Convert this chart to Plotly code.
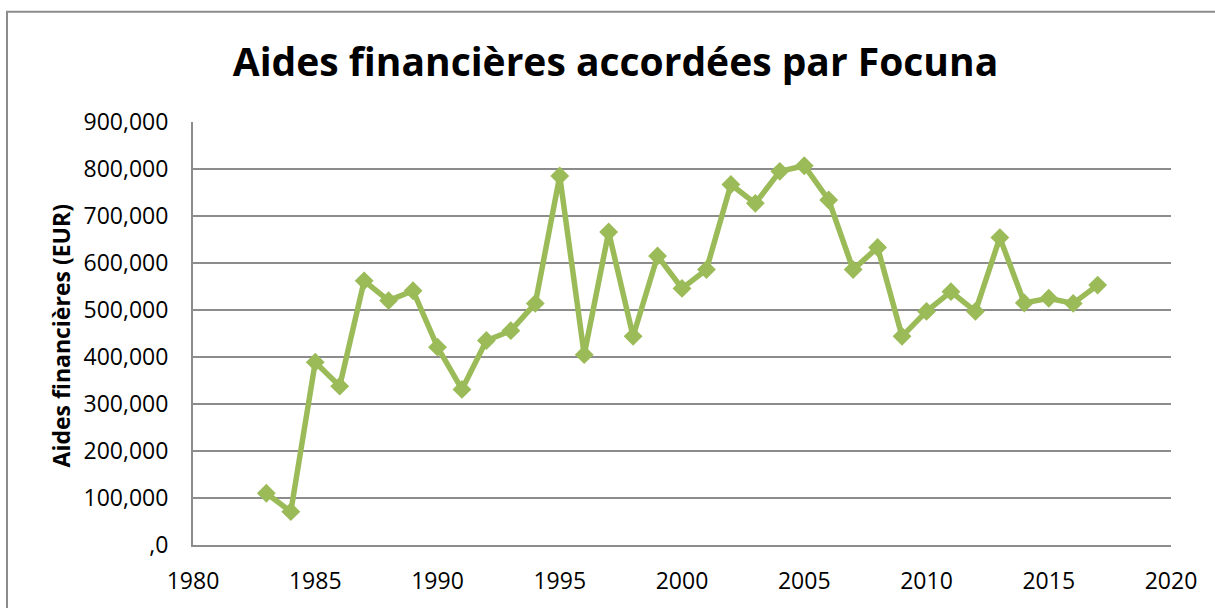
import plotly.graph_objects as go

years = list(range(1983, 2018))
aides = [110000, 71000, 389000, 338000, 562000, 520000, 541000, 421000, 331000, 435000,
         456000, 514000, 785000, 405000, 666000, 444000, 615000, 546000, 586000, 767000,
         727000, 795000, 807000, 734000, 586000, 633000, 444000, 497000, 539000, 497000,
         654000, 515000, 525000, 514000, 553000]

y_tickvals = [0, 100000, 200000, 300000, 400000, 500000, 600000, 700000, 800000, 900000]
y_ticktext = [",0", "100,000", "200,000", "300,000", "400,000", "500,000", "600,000",
              "700,000", "800,000", "900,000"]
x_tickvals = [1980, 1985, 1990, 1995, 2000, 2005, 2010, 2015, 2020]

title_text = "Aides financières accordées par Focuna"
y_title = "Aides financières (EUR)"

GREEN = "#9BBB59"
GRID = "#8C8C8C"
FONT = "Open Sans"

fig = go.Figure()
fig.add_trace(go.Scatter(
    x=years, y=aides, mode="lines+markers",
    line=dict(color=GREEN, width=5.5),
    marker=dict(symbol="diamond", size=14.5, color=GREEN),
    showlegend=False,
))

W, H = 1215, 608
ml, mr, mt, mb = 193, 44, 122, 56
pw, ph = W - ml - mr, H - mt - mb

fig.update_layout(
    width=W, height=H,
    margin=dict(l=ml, r=mr, t=mt, b=mb),
    paper_bgcolor="white", plot_bgcolor="white",
    font=dict(family=FONT, color="black"),
    title=dict(text=title_text, x=615.5 / W, xanchor="center",
               y=1 - 62 / H, yanchor="middle",
               font=dict(family=FONT, size=39, color="black", weight="bold")),
    xaxis=dict(range=[1980, 2020], tickvals=x_tickvals, showgrid=False,
               showline=True, linecolor=GRID, linewidth=2, zeroline=False,
               ticks="", tickfont=dict(size=23, color="black"),
               ticklabelstandoff=14),
    yaxis=dict(range=[0, 900000], tickvals=y_tickvals, ticktext=y_ticktext,
               showgrid=True, gridcolor=GRID, gridwidth=2,
               showline=True, linecolor=GRID, linewidth=2, zeroline=False,
               ticks="", tickfont=dict(size=23, color="black"),
               ticklabelstandoff=18),
    shapes=[dict(type="rect", xref="paper", yref="paper",
                 x0=(7 - ml) / pw, x1=(W + 20 - ml) / pw,
                 y0=-(H + 20 - mt - ph) / ph, y1=1 + (mt - 10) / ph,
                 line=dict(color=GRID, width=2), fillcolor="rgba(0,0,0,0)",
                 layer="below")],
    annotations=[dict(text=y_title, textangle=-90, xref="paper", yref="paper",
                      x=(61 - ml) / pw, y=(H - mb - 340) / ph,
                      xanchor="center", yanchor="middle", showarrow=False,
                      font=dict(family=FONT, size=23, color="black", weight="bold"))],
)

fig.write_html("out.html", config={"displayModeBar": False},
               post_script="document.body.style.margin='0px';")
